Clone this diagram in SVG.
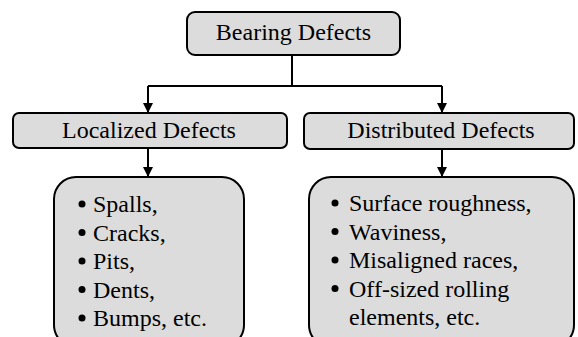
<svg xmlns="http://www.w3.org/2000/svg" width="578" height="337" viewBox="0 0 578 337">
<style>
.box{fill:#dcdcdc;stroke:#000;stroke-width:2}
.ln{stroke:#000;stroke-width:2;fill:none}
</style>
<defs>
<marker id="ah" viewBox="0 0 10 10" refX="10" refY="5" markerWidth="10" markerHeight="10" markerUnits="userSpaceOnUse" orient="auto">
<path d="M0,0 L10,5 L0,10 z" fill="#000"/>
</marker>
</defs>
<g id="connectors">
<path class="ln" d="M292,55 V86"/>
<path class="ln" d="M148,86 H442"/>
<path class="ln" d="M148,86 V113" marker-end="url(#ah)"/>
<path class="ln" d="M442,86 V113" marker-end="url(#ah)"/>
<path class="ln" d="M148,148 V177" marker-end="url(#ah)"/>
<path class="ln" d="M442,149 V177" marker-end="url(#ah)"/>
</g>
<g font-family="Liberation Serif, Times New Roman, DejaVu Serif, serif" font-size="24" fill="#000">
<g id="bearing">
<rect class="box" x="187" y="12" width="213" height="43" rx="8"/>
<text text-anchor="middle" x="293.5" y="40">Bearing Defects</text>
</g>
<g id="localized">
<rect class="box" x="13" y="113" width="274" height="35" rx="6"/>
<text text-anchor="middle" x="149" y="138">Localized Defects</text>
</g>
<g id="distributed">
<rect class="box" x="304" y="113" width="270" height="36" rx="6"/>
<text text-anchor="middle" x="441" y="138">Distributed Defects</text>
</g>
<g id="localized-list">
<rect class="box" x="54" y="177" width="190" height="170" rx="22"/>
<circle cx="82" cy="204" r="3.5"/>
<circle cx="82" cy="232.5" r="3.5"/>
<circle cx="82" cy="261" r="3.5"/>
<circle cx="82" cy="289.5" r="3.5"/>
<circle cx="82" cy="318" r="3.5"/>
<text x="93" y="212">Spalls,</text>
<text x="93" y="240.5">Cracks,</text>
<text x="93" y="269">Pits,</text>
<text x="93" y="297.5">Dents,</text>
<text x="93" y="326">Bumps, etc.</text>
</g>
<g id="distributed-list">
<rect class="box" x="309" y="177" width="265" height="170" rx="22"/>
<circle cx="335" cy="203" r="3.5"/>
<circle cx="335" cy="231.5" r="3.5"/>
<circle cx="335" cy="260" r="3.5"/>
<circle cx="335" cy="288.5" r="3.5"/>
<text x="349" y="211">Surface roughness,</text>
<text x="349" y="239.5">Waviness,</text>
<text x="349" y="268">Misaligned races,</text>
<text x="349" y="296.5">Off-sized rolling</text>
<text x="349" y="325">elements, etc.</text>
</g>
</g>
</svg>
